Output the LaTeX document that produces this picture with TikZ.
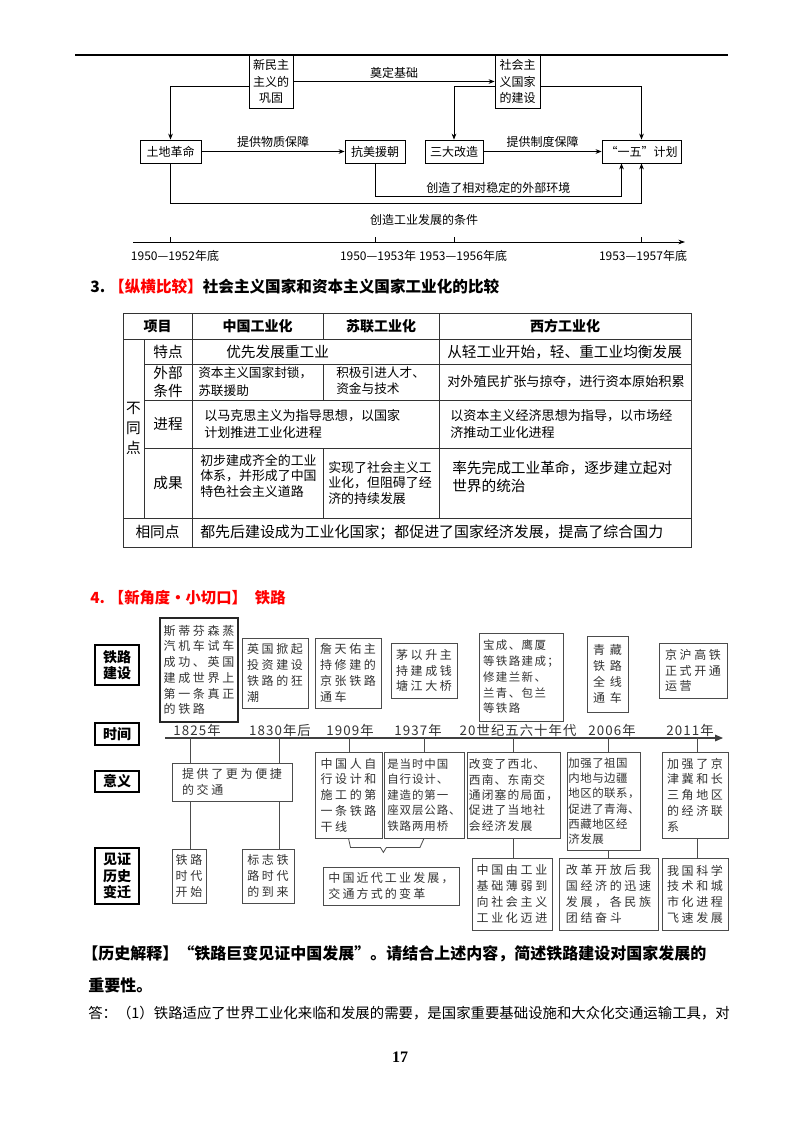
\documentclass[tikz,border=0pt]{standalone}
\usepackage{fontspec}
\setmainfont{Noto Sans CJK SC}
\newfontfamily\tnr{Liberation Serif}
\usetikzlibrary{calc,arrows.meta}
\newcommand\fsz[2]{\fontsize{#1pt}{#2pt}\selectfont}
\newcommand\lsp[1]{\addfontfeatures{LetterSpace=#1}}
\newcommand\mybox[7][]{%
  \pgfmathsetmacro\pbw{(#5-#3)*0.75}%
  \pgfmathsetmacro\pbh{(#6-#4)*0.75}%
  \node[#1, minimum width=\pbw pt, minimum height=\pbh pt] (#2) at ({(#3+#5)/2},{(#4+#6)/2}) {#7};%
}
\tikzset{
  fb/.style={draw, line width=0.6pt, font=\fsz{9}{12.5}, align=center, inner sep=1pt},
  lab/.style={font=\fsz{9}{11}, inner sep=1pt},
  arr/.style={line width=0.6pt, -{Stealth[length=4.5pt,width=3.5pt]}},
  tbl/.style={line width=0.7pt, draw=black!80},
  th/.style={font=\bfseries\fsz{10.5}{12}, inner sep=0},
  tl/.style={font=\fsz{11}{12.5}, align=center, inner sep=0},
  tc/.style={anchor=west, align=left, inner sep=0},
  rb/.style={draw=black!70, line width=0.6pt, text=black!80, font={\fsz{9}{11.8}\lsp{22}}, align=left, inner sep=1pt},
  lb/.style={draw, line width=1.1pt, font=\bfseries\fsz{10.5}{12.5}, align=center, inner sep=1pt},
  yr/.style={font={\fsz{10}{12}\lsp{8}}, text=black!80, inner sep=0},
  ln/.style={line width=0.6pt, draw=black!70},
}
\begin{document}
\begin{tikzpicture}[x=0.75pt,y=-0.75pt]
\path[use as bounding box, fill=white] (0,0) rectangle (800,1132);

% ---------- top flow chart ----------
\coordinate (r0) at (75,55); \coordinate (r1) at (728,55);
\draw[line width=1.1pt] (r0) -- (r1);

\mybox[fb]{A}{249}{55}{293}{108}{新民主\\主义的\\巩固}
\mybox[fb]{B}{495}{55}{540}{108}{社会主\\义国家\\的建设}
\mybox[fb]{tudi}{140}{140}{201}{163}{土地革命}
\mybox[fb]{kmyc}{345}{140}{405}{163}{抗美援朝}
\mybox[fb]{sdgz}{425}{140}{483}{163}{三大改造}
\mybox[fb]{ywjh}{602}{140}{681}{163}{“一五”计划}

\draw[arr] (A.east) -- (B.west) node[midway, above=1pt, lab] (l1) {奠定基础};
\draw[arr] ($(A.west)+(0,5)$) -| (tudi.north);
\draw[arr] ($(B.west)+(0,5)$) -| (sdgz.north);
\draw[arr] ($(B.east)+(0,5)$) -| (ywjh.north);
\draw[arr] (tudi.east) -- (kmyc.west) node[midway, above=2pt, lab] (l2) {提供物质保障};
\draw[arr] (sdgz.east) -- (ywjh.west) node[midway, above=2pt, lab] (l3) {提供制度保障};
\draw[arr] (kmyc.south) -- ++(0,33) -| ($(ywjh.south)+(-20,0)$) node[pos=0.25, above=1pt, lab] (l4) {创造了相对稳定的外部环境};
\draw[arr] (tudi.south) -- ++(0,40) -| (ywjh.south);
\node[lab] (l5) at (424,220) {创造工业发展的条件};

\coordinate (ax0) at (133,242); \coordinate (ax1) at (685,242);
\draw[line width=0.6pt, -{Stealth[length=5pt,width=3.5pt]}] (ax0) -- (ax1);
\foreach \n in {tudi,kmyc,sdgz,ywjh} \draw[line width=0.6pt] (\n.south |- ax0) -- ++(0,-5);
\node[lab] (y1) at (175,256) {1950—1952年底};
\node[lab] (y2) at (378,256) {1950—1953年};
\node[lab] (y3) at (463,256) {1953—1956年底};
\node[lab] (y4) at (643,256) {1953—1957年底};

% ---------- section 3 ----------
\node[anchor=west, font=\bfseries\fsz{11.7}{14}, inner sep=0] (h3) at (90,287)
  {3.\hspace{3pt}\textcolor{red}{【纵横比较】}社会主义国家和资本主义国家工业化的比较};

\draw[tbl] (123,313) rectangle (691,547);
\draw[tbl] (123,339) -- (691,339);
\draw[tbl] (144,364) -- (691,364);
\draw[tbl] (144,400) -- (691,400);
\draw[tbl] (144,448) -- (691,448);
\draw[tbl] (123,518) -- (691,518);
\draw[tbl] (144,339) -- (144,518);
\draw[tbl] (192,313) -- (192,547);
\draw[tbl] (323,313) -- (323,339);
\draw[tbl] (323,364) -- (323,400);
\draw[tbl] (323,448) -- (323,518);
\draw[tbl] (439,313) -- (439,518);

\node[th] (t00) at (157.5,326) {项目};
\node[th] (t01) at (257.5,326) {中国工业化};
\node[th] (t02) at (381,326) {苏联工业化};
\node[th] (t03) at (565,326) {西方工业化};
\node[tl, font=\fsz{11}{15}] (bt) at (133.5,428) {不\\同\\点};
\node[tl] (tl1) at (168,352) {特点};
\node[tl, font=\fsz{11}{14}] (tl2) at (168,382) {外部\\条件};
\node[tl] (tl3) at (168,424) {进程};
\node[tl] (tl4) at (168,483) {成果};
\node[tl] (tl5) at (157.5,532) {相同点};

\node[tc, font=\fsz{11}{13}] (c11) at (226,352) {优先发展重工业};
\node[tc, font=\fsz{11}{13}] (c13) at (447,352) {从轻工业开始，轻、重工业均衡发展};
\node[tc, font=\fsz{9.5}{13.5}] (c21) at (198,382) {资本主义国家封锁，\\苏联援助};
\node[tc, font=\fsz{9.5}{12}] (c22) at (336,381) {积极引进人才、\\资金与技术};
\node[tc, font=\fsz{9.9}{12}] (c23) at (447,382) {对外殖民扩张与掠夺，进行资本原始积累};
\node[tc, font=\fsz{9.8}{13}] (c31) at (204,424) {以马克思主义为指导思想，以国家\\计划推进工业化进程};
\node[tc, font=\fsz{9.8}{13}] (c33) at (450,424) {以资本主义经济思想为指导，以市场经\\济推动工业化进程};
\node[tc, font=\fsz{9.7}{11.5}] (c41) at (200,476) {初步建成齐全的工业\\体系，并形成了中国\\特色社会主义道路};
\node[tc, font=\fsz{9.7}{11.5}] (c42) at (328,483) {实现了社会主义工\\业化，但阻碍了经\\济的持续发展};
\node[tc, font=\fsz{11}{14}] (c43) at (452,477) {率先完成工业革命，逐步建立起对\\世界的统治};
\node[tc, font=\fsz{11.2}{13}] (c51) at (200,532) {都先后建设成为工业化国家；都促进了国家经济发展，提高了综合国力};

% ---------- section 4 ----------
\node[anchor=west, text=red, font=\bfseries\fsz{11.5}{14}, inner sep=0] (h4) at (90,598)
  {4.\hspace{3pt}【新角度·小切口】\hspace{6pt}铁路};

\mybox[lb]{L1}{95}{645}{139}{685}{铁路\\建设}
\mybox[lb]{L2}{95}{723}{139}{745}{时间}
\mybox[lb]{L3}{95}{771}{139}{792}{意义}
\mybox[lb]{L4}{95}{848}{139}{904}{见证\\历史\\变迁}

\mybox[rb, draw=black!85, line width=0.9pt]{b1}{160}{618}{238}{722}{斯蒂芬森蒸\\汽机车试车\\成功、英国\\建成世界上\\第一条真正\\的铁路}
\mybox[rb]{b2}{242}{638}{308}{708}{英国掀起\\投资建设\\铁路的狂\\潮}
\mybox[rb]{b3}{315}{638}{381}{708}{詹天佑主\\持修建的\\京张铁路\\通车}
\mybox[rb]{b4}{391}{643}{457}{698}{茅以升主\\持建成钱\\塘江大桥}
\mybox[rb, font={\fsz{8.6}{11.8}\lsp{12}}]{b5}{479}{633}{563}{721}{宝成、鹰厦\\等铁路建成；\\修建兰新、\\兰青、包兰\\等铁路}
\mybox[rb, font={\fsz{9}{11.8}\lsp{40}}]{b6}{587}{636}{628}{712}{青藏\\铁路\\全线\\通车}
\mybox[rb]{b7}{659}{643}{727}{698}{京沪高铁\\正式开通\\运营}

\coordinate (tl0) at (165,738); \coordinate (tl1) at (723,738);
\draw[line width=0.8pt, draw=black!75, -{Triangle[length=6pt,width=5pt]}] (tl0) -- (tl1);
\node[yr] (d1) at (197,730) {1825年};
\node[yr] (d2) at (280,730) {1830年后};
\node[yr] (d3) at (350,730) {1909年};
\node[yr] (d4) at (418,730) {1937年};
\node[yr] (d5) at (518,730) {20世纪五六十年代};
\node[yr] (d6) at (612,730) {2006年};
\node[yr] (d7) at (690,730) {2011年};

\mybox[rb]{yy1}{172}{763}{292}{801}{提供了更为便捷\\的交通}
\mybox[rb]{yy2}{315}{752}{382}{838}{中国人自\\行设计和\\施工的第\\一条铁路\\干线}
\mybox[rb, font={\fsz{8.6}{11.6}\lsp{8}}]{yy3}{384}{752}{464}{838}{是当时中国\\自行设计、\\建造的第一\\座双层公路、\\铁路两用桥}
\mybox[rb, font={\fsz{8.8}{11.6}\lsp{10}}]{yy4}{467}{752}{560}{838}{改变了西北、\\西南、东南交\\通闭塞的局面，\\促进了当地社\\会经济发展}
\mybox[rb, font={\fsz{8.6}{11.5}\lsp{4}}]{yy5}{568}{752}{640}{850}{加强了祖国\\内地与边疆\\地区的联系，\\促进了青海、\\西藏地区经\\济发展}
\mybox[rb]{yy6}{662}{752}{728}{838}{加强了京\\津冀和长\\三角地区\\的经济联\\系}

\mybox[rb, font={\fsz{9}{11.8}\lsp{18}}]{sum}{323}{867}{459}{905}{中国近代工业发展，\\交通方式的变革}

\mybox[rb]{jz1}{172}{849}{206}{903}{铁路\\时代\\开始}
\mybox[rb]{jz2}{242}{849}{294}{903}{标志铁\\路时代\\的到来}
\mybox[rb]{jz3}{472}{858}{552}{930}{中国由工业\\基础薄弱到\\向社会主义\\工业化迈进}
\mybox[rb]{jz4}{559}{858}{658}{930}{改革开放后我\\国经济的迅速\\发展，各民族\\团结奋斗}
\mybox[rb]{jz5}{662}{858}{728}{930}{我国科学\\技术和城\\市化进程\\飞速发展}

\coordinate (k1) at (190,738); \coordinate (k2) at (279,738);
\coordinate (k3) at (349,738); \coordinate (k4) at (424,738);
\coordinate (k5) at (513,738); \coordinate (k6) at (608,738);
\coordinate (k7) at (697,738);
\draw[ln] (k1) -- (k1 |- yy1.north);
\draw[ln] (k2) -- (k2 |- yy1.north);
\draw[ln] (k1 |- yy1.south) -- (k1 |- jz1.north);
\draw[ln] (k2 |- yy1.south) -- (k2 |- jz2.north);
\draw[ln] (k3) -- (k3 |- yy2.north);
\draw[ln] (k4) -- (k4 |- yy3.north);
\draw[ln] (k5) -- (k5 |- yy4.north);
\draw[ln] (k5 |- yy4.south) -- (k5 |- jz3.north);
\draw[ln] (k6) -- (k6 |- yy5.north);
\draw[ln] (k6 |- yy5.south) -- (k6 |- jz4.north);
\draw[ln] (k7) -- (k7 |- yy6.north);
\draw[ln] (k7 |- yy6.south) -- (k7 |- jz5.north);

\draw[ln] (yy2.south) -- ++(2,9) -- ($(yy2.south east)+(-2,9)$) -- ($(yy2.south east)+(1,14)$)
  -- ($(yy2.south east)+(4,9)$) -- ($(yy3.south)+(-4,9)$) -- (yy3.south);

% ---------- question ----------
\node[anchor=west, font=\bfseries\fsz{12}{14}, inner sep=0] (q1) at (82,954)
  {【历史解释】“铁路巨变见证中国发展”。请结合上述内容，简述铁路建设对国家发展的};
\node[anchor=west, font=\bfseries\fsz{12}{14}, inner sep=0] (q2) at (88,985) {重要性。};
\node[anchor=west, font=\fsz{10.8}{13}, inner sep=0] (ans) at (88,1013)
  {答：（1）铁路适应了世界工业化来临和发展的需要，是国家重要基础设施和大众化交通运输工具，对};
\node[font=\tnr\bfseries\fsz{12}{14}] (pg) at (400,1057) {17};
\end{tikzpicture}
\end{document}
